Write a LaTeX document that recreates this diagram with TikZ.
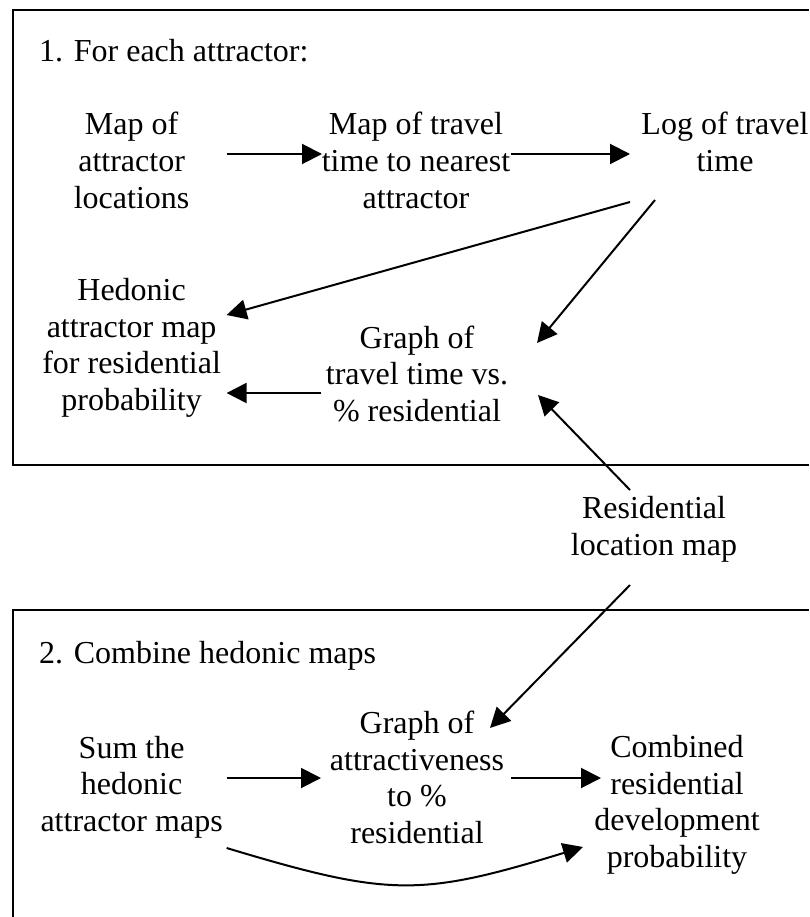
\documentclass[tikz,border=0pt]{standalone}
\usepackage{fontspec}
\setmainfont{Liberation Serif}
\usetikzlibrary{%
  arrows.meta,%
  calc%
}
\tikzset{>={Triangle[length=20pt,width=20pt]}}
\tikzset{
  txt/.style={align=center,anchor=base,inner sep=0pt,font=\fontsize{32}{36.5}\selectfont},
  ttl/.style={anchor=base west,inner sep=0pt,font=\fontsize{32}{36.5}\selectfont},
  frame/.style={line width=2pt},
  arr/.style={->,line width=2pt}
}

\begin{document}
\begin{tikzpicture}[x=1pt,y=-1pt]
        \useasboundingbox (0,0) rectangle (809,917);
        \draw[frame] (809,10) -- (13,10) -- (13,465) -- (809,465);
        \draw[frame] (809,610) -- (13,610) -- (13,917);
        \node[ttl] (t1) at (39,62) {1. For each attractor:};
        \node[txt] (map1) at (131.6,208) {Map of\\attractor\\locations};
        \node[txt] (trav) at (416,208) {Map of travel\\time to nearest\\attractor};
        \node[txt] (logt) at (725,171.5) {Log of travel\\time};
        \node[txt] (hed) at (131.6,410) {Hedonic\\attractor map\\for residential\\probability};
        \node[txt] (graph1) at (417,421) {Graph of\\travel time vs.\\\% residential};
        \node[txt] (resid) at (654,555) {Residential\\location map};
        \node[ttl] (t2) at (39,663) {2. Combine hedonic maps};
        \node[txt] (sum) at (131.6,831) {Sum the\\hedonic\\attractor maps};
        \node[txt] (graph2) at (417,843) {Graph of\\attractiveness\\to \%\\residential};
        \node[txt] (comb) at (677,867) {Combined\\residential\\development\\probability};
        \draw[arr] ([shift={(95,-54)}]map1.base) -- ([shift={(-94,-54)}]trav.base);
        \draw[arr] ([shift={(95,-54)}]trav.base) -- ([shift={(-95,-17.5)}]logt.base);
        \draw[arr] ([shift={(-95,30.5)}]logt.base) -- ([shift={(95,-95)}]hed.base);
        \draw[arr] ([shift={(-70,28.5)}]logt.base) -- ([shift={(120,-78)}]graph1.base);
        \draw[arr] ([shift={(-96,-28)}]graph1.base) -- ([shift={(95,-17)}]hed.base);
        \draw[arr] ([shift={(-24,-65)}]resid.base) -- ([shift={(121,-26)}]graph1.base);
        \draw[arr] ([shift={(-24,30)}]resid.base) -- ([shift={(73,-115)}]graph2.base);
        \draw[arr] ([shift={(95,-53)}]sum.base) -- ([shift={(-96,-65)}]graph2.base);
        \draw[arr] ([shift={(94,-65)}]graph2.base) -- ([shift={(-76,-89)}]comb.base);
        \draw[arr] ([shift={(95,17)}]sum.base) .. controls ([shift={(258,66)}]sum.base)
        and ([shift={(-257,30)}]comb.base) .. ([shift={(-94,-20)}]comb.base);
      \end{tikzpicture}
\end{document}
